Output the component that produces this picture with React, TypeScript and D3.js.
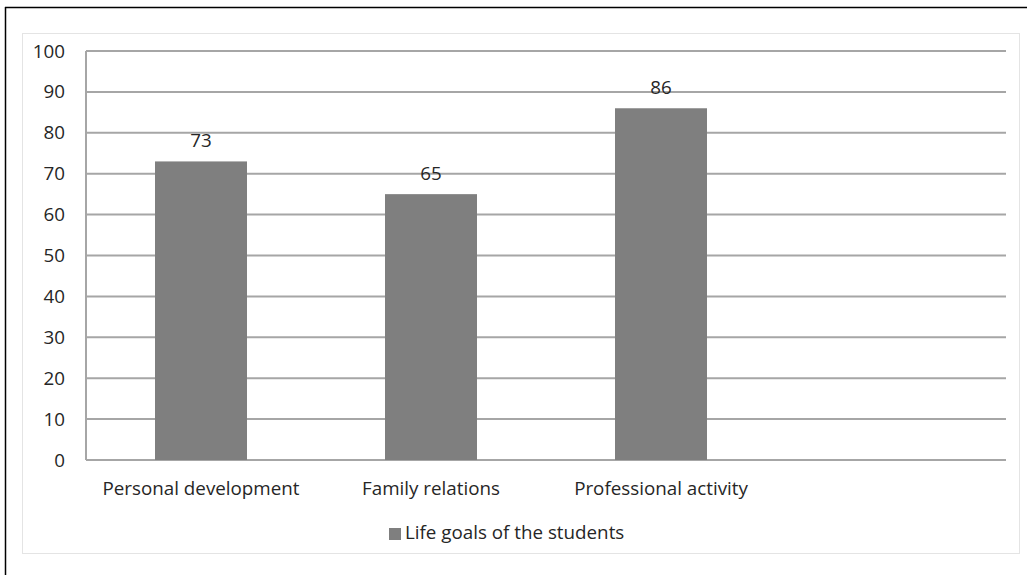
import React from "react";
import * as d3 from "d3";

const categories = ["Personal development", "Family relations", "Professional activity", ""];
const values = [73, 65, 86, null];
const yTicks = [0, 10, 20, 30, 40, 50, 60, 70, 80, 90, 100];
const seriesName = "Life goals of the students";

export default function App() {
  const W = 1027, H = 575;
  const left = 86, right = 1006, top = 51, bottom = 460;
  const x = d3.scaleBand<string>().domain(categories.map((c, i) => String(i))).range([left, right]).paddingInner(0.6).paddingOuter(0.3);
  const band = d3.scaleBand<string>().domain(categories.map((c, i) => String(i))).range([left, right]);
  const y = d3.scaleLinear().domain([0, 100]).range([bottom, top]);
  const font = "'Open Sans', sans-serif";
  const fs = 18.8;
  const textColor = "#262626";
  return (
    <svg width={W} height={H} style={{ position: "absolute", left: 0, top: 0, background: "#fff" }}>
      <rect x={0} y={0} width={W} height={H} fill="#fff" />
      <line x1={5.5} y1={7} x2={5.5} y2={H} stroke="#000" strokeWidth={1.5} />
      <line x1={5} y1={7.5} x2={W} y2={7.5} stroke="#000" strokeWidth={1.5} />
      <rect x={22.5} y={33.5} width={997} height={520} fill="#fff" stroke="#e4e4e4" strokeWidth={1} />
      {yTicks.map((t) => (
        <g key={t}>
          <line x1={left} x2={right} y1={y(t)} y2={y(t)} stroke="#a6a6a6" strokeWidth={2} />
          <text x={65} y={y(t)} dy="0.35em" textAnchor="end" fontFamily={font} fontSize={fs} fill={textColor}>{t}</text>
        </g>
      ))}
      <line x1={left} x2={left} y1={top} y2={bottom} stroke="#a6a6a6" strokeWidth={2} />
      {values.map((v, i) =>
        v == null ? null : (
          <g key={i}>
            <rect x={x(String(i))} y={y(v)} width={x.bandwidth()} height={bottom - y(v)} fill="#7f7f7f" />
            <text x={x(String(i))! + x.bandwidth() / 2} y={y(v) - 14.5} textAnchor="middle" fontFamily={font} fontSize={fs} fill={textColor}>{v}</text>
          </g>
        )
      )}
      {categories.map((c, i) => (
        <text key={i} x={band(String(i))! + band.bandwidth() / 2} y={495} textAnchor="middle" fontFamily={font} fontSize={fs} fill={textColor}>{c}</text>
      ))}
      <rect x={389} y={528} width={12} height={12} fill="#7f7f7f" />
      <text x={405} y={539} fontFamily={font} fontSize={fs} fill={textColor}>{seriesName}</text>
    </svg>
  );
}
